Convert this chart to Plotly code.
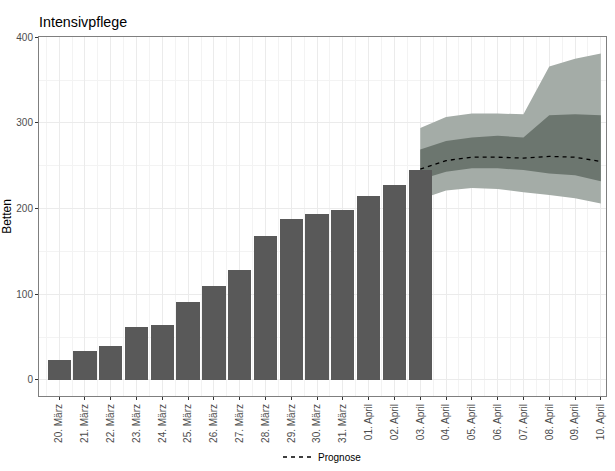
import plotly.graph_objects as go

dates = ["20. März", "21. März", "22. März", "23. März", "24. März", "25. März",
         "26. März", "27. März", "28. März", "29. März", "30. März", "31. März",
         "01. April", "02. April", "03. April", "04. April", "05. April", "06. April",
         "07. April", "08. April", "09. April", "10. April"]
beds = [23, 34, 40, 62, 64, 91, 110, 128, 168, 188, 194, 198, 215, 227, 245]

fc_dates = dates[14:]
fc_median = [246, 256, 260, 260, 259, 261, 260, 255]
fc_inner_lo = [234, 243, 247, 247, 245, 241, 239, 232]
fc_inner_hi = [269, 279, 283, 285, 283, 309, 310, 309]
fc_outer_lo = [211, 221, 224, 223, 219, 216, 212, 206]
fc_outer_hi = [294, 307, 311, 311, 310, 366, 375, 381]

idx = {d: i for i, d in enumerate(dates)}
xb = [idx[d] for d in dates[:len(beds)]]
xf = [idx[d] for d in fc_dates]

outer_col = "#a4aca7"
inner_col = "#6c766f"

fig = go.Figure()
fig.add_trace(go.Scatter(x=xf, y=fc_outer_lo, mode="lines", line=dict(width=0),
                         showlegend=False, hoverinfo="skip"))
fig.add_trace(go.Scatter(x=xf, y=fc_outer_hi, mode="lines", line=dict(width=0),
                         fill="tonexty", fillcolor=outer_col, showlegend=False, hoverinfo="skip"))
fig.add_trace(go.Scatter(x=xf, y=fc_inner_lo, mode="lines", line=dict(width=0),
                         showlegend=False, hoverinfo="skip"))
fig.add_trace(go.Scatter(x=xf, y=fc_inner_hi, mode="lines", line=dict(width=0),
                         fill="tonexty", fillcolor=inner_col, showlegend=False, hoverinfo="skip"))
fig.add_trace(go.Bar(x=xb, y=beds, width=0.9, marker=dict(color="#595959", line=dict(width=0)),
                     showlegend=False, xaxis="x2", yaxis="y2"))
fig.add_trace(go.Scatter(x=xf, y=fc_median, mode="lines", name="Prognose",
                         line=dict(color="black", width=1.3, dash="4px,4px"),
                         xaxis="x2", yaxis="y2"))

W, H = 615, 471
xr = [-0.78, 21.2]
yr = [-18.7, 400.3]
fig.update_layout(
    width=W, height=H,
    margin=dict(l=39, r=9, t=37, b=75),
    paper_bgcolor="white", plot_bgcolor="white",
    font=dict(family="Liberation Sans, Arial, sans-serif", color="#4d4d4d", size=10),
    title=dict(text="Intensivpflege", x=39/W, xanchor="left", y=1 - 22/H, yanchor="middle",
               font=dict(size=14.3, color="black")),
    xaxis=dict(range=xr, tickmode="array", tickvals=list(range(len(dates))), ticktext=dates,
               tickangle=-90, ticks="outside", ticklen=3, tickcolor="#333333",
               showgrid=True, gridcolor="#ebebeb", gridwidth=1, automargin=False,
               minor=dict(dtick=0.5, tick0=0.5, showgrid=True, gridcolor="#f3f3f3", gridwidth=1),
               showline=True, linecolor="#7f7f7f", mirror=True, zeroline=False,
               tickfont=dict(size=10, color="#4d4d4d")),
    yaxis=dict(range=yr, tickvals=[0, 100, 200, 300, 400], ticks="outside", ticklen=3,
               tickcolor="#333333", showgrid=True, gridcolor="#ebebeb", automargin=False,
               minor=dict(tickvals=[50, 150, 250, 350], showgrid=True, gridcolor="#f3f3f3"),
               showline=True, linecolor="#7f7f7f", mirror=True, zeroline=False,
               title=dict(text="Betten", font=dict(size=12, color="black"), standoff=2),
               tickfont=dict(size=10, color="#4d4d4d")),
    xaxis2=dict(range=xr, overlaying="x", visible=False),
    yaxis2=dict(range=yr, overlaying="y", visible=False),
    legend=dict(orientation="h", x=0.5, xanchor="center", xref="paper",
                yref="container", y=1 - 457/H, yanchor="middle",
                font=dict(size=10, color="black")),
    bargap=0,
)
fig.write_html("out.html", config={"displayModeBar": False},
               post_script="document.body.style.margin='0';")
